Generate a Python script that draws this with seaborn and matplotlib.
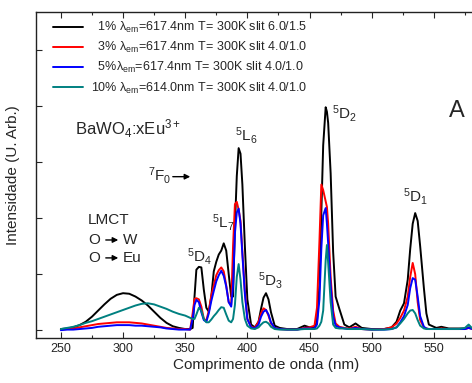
import numpy as np
import pandas as pd
import matplotlib
matplotlib.use('Agg')
import matplotlib.pyplot as plt
import seaborn as sns
from matplotlib.ticker import MultipleLocator, NullFormatter

# excitation wavelength grid (nm), shared by all series
wavelength = [
    250, 255, 260, 265, 270, 275, 280, 285, 290, 295, 300,
    305, 310, 315, 320, 325, 330, 335, 340, 345, 350,
    354, 356, 357.5, 359, 361, 363, 365, 367, 369,
    371, 373, 375, 377, 379, 381, 383, 385, 387,
    388.5, 390, 391.5, 393, 394.5, 396, 398, 400,
    403, 406, 409, 411, 413, 415, 417, 419, 422, 426, 432,
    440, 446, 450,
    454, 456, 458, 459.5, 461, 463, 464, 465, 467, 469, 471, 474, 478,
    482, 487, 492, 500, 510,
    516, 520, 523, 526, 529, 531, 533, 535, 537, 539, 542, 544, 546,
    552, 556, 562, 570, 575, 578, 581, 590, 600,
]

# intensities (arb. units, 1 = one y tick step)
eu_1 = [
    0.02, 0.03, 0.05, 0.09, 0.15, 0.24, 0.35, 0.46, 0.56, 0.63, 0.66,
    0.65, 0.60, 0.53, 0.44, 0.33, 0.22, 0.13, 0.07, 0.04, 0.02,
    0.02, 0.04, 0.60, 1.08, 1.13, 1.12, 0.72, 0.40, 0.33,
    0.60, 1.05, 1.22, 1.35, 1.42, 1.55, 1.42, 1.00, 0.60,
    0.60, 1.85, 2.75, 3.25, 3.15, 2.60, 1.50, 0.55,
    0.10, 0.05, 0.15, 0.38, 0.58, 0.66, 0.55, 0.32, 0.08, 0.04, 0.02,
    0.02, 0.08, 0.05,
    0.06, 0.15, 0.80, 2.10, 3.30, 3.98, 3.90, 3.70, 2.80, 1.40, 0.60, 0.38, 0.10,
    0.05, 0.12, 0.04, 0.02, 0.02,
    0.05, 0.15, 0.35, 0.48, 0.90, 1.45, 1.90, 2.09, 1.95, 1.50, 0.75, 0.30, 0.10,
    0.04, 0.06, 0.03, 0.03, 0.03, 0.05, 0.03, 0.02, 0.02,
]
eu_3 = [
    0.01, 0.02, 0.03, 0.05, 0.07, 0.09, 0.11, 0.12, 0.13, 0.14, 0.14,
    0.14, 0.13, 0.12, 0.10, 0.08, 0.06, 0.04, 0.03, 0.02, 0.02,
    0.01, 0.30, 0.56, 0.57, 0.55, 0.42, 0.20, 0.17, 0.35,
    0.62, 0.80, 0.98, 1.07, 1.12, 1.05, 0.80, 0.50, 0.45,
    1.50, 2.25, 2.29, 2.15, 1.95, 1.40, 0.70, 0.20,
    0.06, 0.04, 0.15, 0.30, 0.39, 0.36, 0.26, 0.12, 0.04, 0.02, 0.01,
    0.01, 0.04, 0.05,
    0.08, 0.40, 1.60, 2.60, 2.50, 2.30, 2.20, 1.90, 0.95, 0.35, 0.12, 0.06, 0.04,
    0.03, 0.06, 0.02, 0.01, 0.02,
    0.05, 0.12, 0.22, 0.35, 0.60, 0.95, 1.20, 1.00, 0.50, 0.18, 0.05, 0.03, 0.02,
    0.02, 0.03, 0.02, 0.02, 0.02, 0.04, 0.02, 0.02, 0.02,
]
eu_5 = [
    0.00, 0.01, 0.01, 0.02, 0.03, 0.04, 0.06, 0.07, 0.08, 0.09, 0.09,
    0.09, 0.08, 0.08, 0.07, 0.06, 0.05, 0.03, 0.02, 0.01, 0.01,
    0.01, 0.20, 0.45, 0.54, 0.50, 0.32, 0.18, 0.15, 0.30,
    0.52, 0.70, 0.87, 0.98, 1.06, 0.97, 0.78, 0.50, 0.42,
    0.80, 1.73, 2.10, 2.17, 1.90, 1.35, 0.65, 0.20,
    0.05, 0.03, 0.10, 0.24, 0.33, 0.36, 0.28, 0.14, 0.04, 0.02, 0.01,
    0.01, 0.03, 0.03,
    0.03, 0.10, 0.55, 1.45, 2.05, 2.18, 1.90, 1.55, 0.80, 0.25, 0.08, 0.05, 0.03,
    0.02, 0.04, 0.02, 0.01, 0.01,
    0.02, 0.05, 0.14, 0.25, 0.45, 0.75, 0.93, 0.90, 0.60, 0.25, 0.06, 0.03, 0.02,
    0.02, 0.02, 0.02, 0.02, 0.02, 0.04, 0.02, 0.02, 0.02,
]
eu_10 = [
    0.02, 0.04, 0.06, 0.09, 0.13, 0.16, 0.20, 0.24, 0.28, 0.32, 0.36,
    0.40, 0.44, 0.47, 0.48, 0.46, 0.42, 0.38, 0.33, 0.29, 0.26,
    0.22, 0.20, 0.20, 0.28, 0.40, 0.35, 0.20, 0.14, 0.14,
    0.19, 0.25, 0.30, 0.36, 0.41, 0.40, 0.28, 0.17, 0.14,
    0.20, 0.45, 0.95, 1.18, 0.90, 0.50, 0.20, 0.08,
    0.03, 0.02, 0.05, 0.10, 0.14, 0.15, 0.12, 0.06, 0.02, 0.01, 0.01,
    0.01, 0.02, 0.02,
    0.02, 0.03, 0.08, 0.15, 0.35, 1.25, 1.52, 1.20, 0.50, 0.10, 0.04, 0.03, 0.03,
    0.02, 0.02, 0.02, 0.01, 0.01,
    0.02, 0.05, 0.12, 0.20, 0.30, 0.35, 0.36, 0.30, 0.18, 0.08, 0.03, 0.02, 0.02,
    0.02, 0.02, 0.02, 0.02, 0.04, 0.10, 0.03, 0.02, 0.02,
]

series_labels = [
    r'  1% $\mathrm{\lambda}_{\mathrm{em}}$=617.4nm T= 300K slit 6.0/1.5',
    r'  3% $\mathrm{\lambda}_{\mathrm{em}}$=617.4nm T= 300K slit 4.0/1.0',
    r'  5%$\mathrm{\lambda}_{\mathrm{em}}$=617.4nm T= 300K slit 4.0/1.0',
    r'10% $\mathrm{\lambda}_{\mathrm{em}}$=614.0nm T= 300K slit 4.0/1.0',
]
series_colors = ['#000000', '#ff0000', '#0000ff', '#008080']
x_ticks = [250, 300, 350, 400, 450, 500, 550]

sns.set_theme(style='ticks')
plt.rcParams['font.family'] = ['Liberation Sans', 'DejaVu Sans']
plt.rcParams['mathtext.fontset'] = 'custom'
plt.rcParams['mathtext.rm'] = 'Liberation Sans'
plt.rcParams['mathtext.it'] = 'Liberation Sans:italic'

fig = plt.figure(figsize=(4.72, 3.83), dpi=100)
ax = fig.add_axes([36 / 472, 45 / 383, 460 / 472, 326 / 383])

for vals, lab, col in zip([eu_1, eu_3, eu_5, eu_10], series_labels, series_colors):
    sns.lineplot(x=wavelength, y=vals, color=col, lw=1.4, label=lab, ax=ax)

ax.set_xlim(230, 600)
ax.set_ylim(-0.14, 5.68)
ax.set_xticks(x_ticks)
ax.xaxis.set_minor_locator(MultipleLocator(25))
ax.yaxis.set_major_locator(MultipleLocator(1))
ax.yaxis.set_major_formatter(NullFormatter())
ax.tick_params(which='both', direction='in', top=True, right=False, labelsize=9, width=0.8)
ax.tick_params(which='major', length=4)
ax.tick_params(which='minor', length=2.5)
for s in ax.spines.values():
    s.set_linewidth(1.0)
    s.set_color('#222222')

ax.set_xlabel('Comprimento de onda (nm)', fontsize=11, labelpad=2)
ax.set_ylabel('Intensidade (U. Arb.)', fontsize=11, labelpad=8)

leg = ax.legend(loc='upper left', bbox_to_anchor=(0.037, 0.975), frameon=False,
                fontsize=9, handlelength=2.4, handletextpad=0.6,
                labelspacing=0.4, borderpad=0, borderaxespad=0)

# annotations
ax.text(261.4, 3.6, r'BaWO$_4$:xEu$^{3+}$', fontsize=12, va='center', ha='left')
ax.text(562.3, 3.91, 'A', fontsize=17, va='center', ha='left')
ax.text(390.1, 3.48, r'$^5$L$_6$', fontsize=11, va='center', ha='left')
ax.text(371.6, 1.93, r'$^5$L$_7$', fontsize=11, va='center', ha='left')
ax.text(351.5, 1.32, r'$^5$D$_4$', fontsize=11, va='center', ha='left')
ax.text(408.6, 0.89, r'$^5$D$_3$', fontsize=11, va='center', ha='left')
ax.text(468.1, 3.86, r'$^5$D$_2$', fontsize=11, va='center', ha='left')
ax.text(525.2, 2.39, r'$^5$D$_1$', fontsize=11, va='center', ha='left')
ax.text(320.1, 2.77, r'$^7$F$_0$', fontsize=11, va='center', ha='left')
ax.annotate('', xy=(356.3, 2.74), xytext=(337.8, 2.74),
            arrowprops=dict(arrowstyle='-|>', color='black', lw=1.0, mutation_scale=8))

ax.text(271.8, 1.96, 'LMCT', fontsize=11, va='center', ha='left')
ax.text(271.8, 1.61, 'O', fontsize=11, va='center', ha='left')
ax.annotate('', xy=(298.4, 1.61), xytext=(283.9, 1.61),
            arrowprops=dict(arrowstyle='-|>', color='black', lw=1.0, mutation_scale=8))
ax.text(300.0, 1.61, 'W', fontsize=11, va='center', ha='left')
ax.text(271.8, 1.29, 'O', fontsize=11, va='center', ha='left')
ax.annotate('', xy=(298.4, 1.29), xytext=(283.9, 1.29),
            arrowprops=dict(arrowstyle='-|>', color='black', lw=1.0, mutation_scale=8))
ax.text(300.0, 1.29, 'Eu', fontsize=11, va='center', ha='left')

fig.savefig('out.png', dpi=100)
